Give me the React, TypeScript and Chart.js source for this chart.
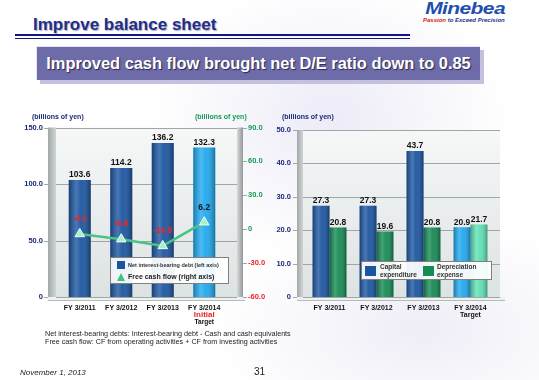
import React, { useEffect, useRef } from "react";
import { Chart, registerables } from "chart.js";

Chart.register(...registerables);

const FONT = "'Liberation Sans', Arial, Helvetica, sans-serif";

// ---- Left chart data ----
const debtCategories = ["FY 3/2011", "FY 3/2012", "FY 3/2013", "FY 3/2014"];
const netInterestBearingDebt = [103.6, 114.2, 136.2, 132.3];
const freeCashFlow = [-4.2, -8.8, -14.8, 6.2];
const debtAxisTicks = [0, 50, 100, 150];
const cashFlowAxisTicks = [-60, -30, 0, 30, 60, 90];
const targetNotesLeft = ["Initial", "Target"];

// ---- Right chart data ----
const capexCategories: (string | string[])[] = ["FY 3/2011", "FY 3/2012", "FY 3/2013", ["FY 3/2014", "Target"]];
const capitalExpenditure = [27.3, 27.3, 43.7, 20.9];
const depreciationExpense = [20.8, 19.6, 20.8, 21.7];
const capexAxisTicks = [0, 10, 20, 30, 40, 50];

const DARK_BLUE = "#1b55a0";
const LIGHT_BLUE = "#1fa8ee";
const DARK_GREEN = "#168a54";
const LIGHT_GREEN = "#5fe0b4";
const NAVY = "#1b2a78";
const AXIS_GREEN = "#179a52";
const AXIS_RED = "#ee2424";

const fmt = (v: number) => (v === 0 ? "0" : Number(v).toFixed(1));

const wallPlugin = {
  id: "wall3d",
  beforeDraw(chart: any, _args: any, o: any) {
    const { ctx, chartArea: a } = chart;
    const L = a.left - o.extL;
    const S = L + o.side;
    const R = a.right + o.extR;
    const P = o.pillar || 0;
    const T = a.top;
    const B = a.bottom;
    ctx.save();
    let g = ctx.createLinearGradient(0, T, 0, B);
    g.addColorStop(0, "#f6f8f8");
    g.addColorStop(1, "#dde2e2");
    ctx.fillStyle = g;
    ctx.fillRect(S, T, R - S, B - T);
    g = ctx.createLinearGradient(L, 0, S, 0);
    g.addColorStop(0, "#a2a8a8");
    g.addColorStop(1, "#d0d4d4");
    ctx.fillStyle = g;
    ctx.fillRect(L, T, S - L, B - T + 2);
    if (P) {
      g = ctx.createLinearGradient(R, 0, R + P, 0);
      g.addColorStop(0, "#d6dada");
      g.addColorStop(1, "#929898");
      ctx.fillStyle = g;
      ctx.fillRect(R, T, P, B - T + 2);
    }
    ctx.fillStyle = "#eef1f1";
    ctx.fillRect(L, B, R + P + o.floorExt - L, 3);
    ctx.strokeStyle = "#b5baba";
    ctx.lineWidth = 1;
    ctx.beginPath();
    ctx.moveTo(L, B + 3.5);
    ctx.lineTo(R + P + o.floorExt, B + 3.5);
    ctx.stroke();

    const ys = chart.scales[o.yId];
    ctx.strokeStyle = "#a0a6a6";
    ys.ticks.forEach((t: any) => {
      const y = Math.round(ys.getPixelForValue(t.value)) + 0.5;
      ctx.beginPath();
      ctx.moveTo(S, y);
      ctx.lineTo(R, y);
      ctx.stroke();
      ctx.beginPath();
      ctx.moveTo(L - 4, y);
      ctx.lineTo(L, y);
      ctx.stroke();
    });
    if (o.y2Id) {
      const y2 = chart.scales[o.y2Id];
      y2.ticks.forEach((t: any) => {
        const y = Math.round(y2.getPixelForValue(t.value)) + 0.5;
        ctx.beginPath();
        ctx.moveTo(R + P, y);
        ctx.lineTo(R + P + 4, y);
        ctx.stroke();
      });
    }
    ctx.restore();
  },
};

const cylinderPlugin = {
  id: "cylinder",
  afterDatasetDraw(chart: any, args: any) {
    const meta = args.meta;
    if (meta.type !== "bar") return;
    const ctx = chart.ctx;
    ctx.save();
    meta.data.forEach((el: any) => {
      const p = el.getProps(["x", "y", "base", "width"], true);
      const l = p.x - p.width / 2;
      const g = ctx.createLinearGradient(l, 0, l + p.width, 0);
      g.addColorStop(0, "rgba(0,0,0,0.28)");
      g.addColorStop(0.35, "rgba(255,255,255,0.2)");
      g.addColorStop(0.55, "rgba(255,255,255,0.05)");
      g.addColorStop(1, "rgba(0,0,0,0.32)");
      ctx.fillStyle = g;
      ctx.fillRect(l, p.y, p.width, p.base - p.y);
    });
    ctx.restore();
  },
};

const valueLabelPlugin = {
  id: "valueLabels",
  afterDatasetsDraw(chart: any, _a: any, o: any) {
    const ctx = chart.ctx;
    ctx.save();
    ctx.font = `bold ${o.size}px ${FONT}`;
    ctx.textAlign = "center";
    ctx.textBaseline = "middle";
    chart.data.datasets.forEach((ds: any, i: number) => {
      const meta = chart.getDatasetMeta(i);
      meta.data.forEach((el: any, j: number) => {
        const v = ds.data[j];
        const p = el.getProps(["x", "y"], true);
        if (meta.type === "bar") {
          ctx.fillStyle = "#111";
          ctx.fillText(v.toFixed(1), p.x, p.y - o.barGap);
        } else {
          ctx.fillStyle = v < 0 ? AXIS_RED : "#111";
          ctx.fillText(v.toFixed(1), p.x, p.y - o.lineGap);
        }
      });
    });
    ctx.restore();
  },
};

const targetNotePlugin = {
  id: "targetNote",
  afterDraw(chart: any, _a: any, o: any) {
    if (!o || !o.lines) return;
    const xs = chart.scales.x;
    const x = xs.getPixelForValue(chart.data.labels.length - 1);
    const ctx = chart.ctx;
    ctx.save();
    ctx.textAlign = "center";
    ctx.textBaseline = "middle";
    o.lines.forEach((txt: string, k: number) => {
      ctx.font = `bold ${o.sizes[k]}px ${FONT}`;
      ctx.fillStyle = o.colors[k];
      ctx.fillText(txt, x, chart.chartArea.bottom + o.offsets[k]);
    });
    ctx.restore();
  },
};

const xAxis = (extra: any = {}) => ({
  grid: { display: false, drawTicks: false },
  border: { display: false },
  ticks: {
    font: { family: FONT, size: 7, weight: "bold", lineHeight: 1.1 },
    color: "#111",
    padding: 7,
    maxRotation: 0,
    autoSkip: false,
  },
  afterFit: (s: any) => {
    s.height = 33;
  },
  ...extra,
});

function LeftChart() {
  const ref = useRef<HTMLCanvasElement | null>(null);
  useEffect(() => {
    if (!ref.current) return;
    const chart = new Chart(ref.current, {
      type: "bar",
      data: {
        labels: debtCategories,
        datasets: [
          {
            type: "line",
            label: "Free cash flow (right axis)",
            data: freeCashFlow,
            yAxisID: "y2",
            borderColor: "#49c488",
            borderWidth: 2.5,
            pointStyle: "triangle",
            pointRadius: 5.5,
            pointBackgroundColor: "#a8f0c8",
            pointBorderColor: "#f0fff6",
            pointBorderWidth: 1,
            order: 0,
          } as any,
          {
            type: "bar",
            label: "Net interest-bearing debt (left axis)",
            data: netInterestBearingDebt,
            yAxisID: "y",
            backgroundColor: [DARK_BLUE, DARK_BLUE, DARK_BLUE, LIGHT_BLUE],
            barPercentage: 0.53,
            categoryPercentage: 1,
            order: 1,
          },
        ],
      },
      options: {
        responsive: false,
        animation: false,
        events: [],
        layout: { padding: { top: 27, right: 0, left: 0, bottom: 0 } },
        plugins: {
          legend: { display: false },
          tooltip: { enabled: false },
          wall3d: { extL: 11, side: 8, extR: 12, pillar: 6, floorExt: 2, yId: "y", y2Id: "y2" },
          valueLabels: { size: 8.5, barGap: 5, lineGap: 15 },
          targetNote: {
            lines: targetNotesLeft,
            sizes: [8, 6.5],
            colors: [AXIS_RED, "#111"],
            offsets: [17.5, 25.5],
          },
        } as any,
        scales: {
          x: xAxis(),
          y: {
            position: "left",
            min: debtAxisTicks[0],
            max: debtAxisTicks[debtAxisTicks.length - 1],
            grid: { display: false, drawTicks: false },
            border: { display: false },
            ticks: {
              font: { family: FONT, size: 7.5, weight: "bold" },
              color: NAVY,
              padding: 16,
              callback: (v: any) => fmt(v),
            },
            afterBuildTicks: (s: any) => {
              s.ticks = debtAxisTicks.map((v) => ({ value: v }));
            },
            afterFit: (s: any) => {
              s.width = 59;
            },
          },
          y2: {
            position: "right",
            min: cashFlowAxisTicks[0],
            max: cashFlowAxisTicks[cashFlowAxisTicks.length - 1],
            grid: { display: false, drawTicks: false },
            border: { display: false },
            ticks: {
              font: { family: FONT, size: 7.5, weight: "bold" },
              color: (c: any) => (c.tick && c.tick.value < 0 ? AXIS_RED : AXIS_GREEN),
              padding: 23,
              callback: (v: any) => fmt(v),
            },
            afterBuildTicks: (s: any) => {
              s.ticks = cashFlowAxisTicks.map((v) => ({ value: v }));
            },
            afterFit: (s: any) => {
              s.width = 55;
            },
          },
        } as any,
      },
      plugins: [wallPlugin, cylinderPlugin, valueLabelPlugin, targetNotePlugin],
    });
    return () => chart.destroy();
  }, []);
  return <canvas ref={ref} width={280} height={230} style={{ display: "block" }} />;
}

function RightChart() {
  const ref = useRef<HTMLCanvasElement | null>(null);
  useEffect(() => {
    if (!ref.current) return;
    const chart = new Chart(ref.current, {
      type: "bar",
      data: {
        labels: capexCategories as any,
        datasets: [
          {
            label: "Capital expenditure",
            data: capitalExpenditure,
            backgroundColor: [DARK_BLUE, DARK_BLUE, DARK_BLUE, LIGHT_BLUE],
            barPercentage: 1,
            categoryPercentage: 0.72,
          },
          {
            label: "Depreciation expense",
            data: depreciationExpense,
            backgroundColor: [DARK_GREEN, DARK_GREEN, DARK_GREEN, LIGHT_GREEN],
            barPercentage: 1,
            categoryPercentage: 0.72,
          },
        ],
      },
      options: {
        responsive: false,
        animation: false,
        events: [],
        layout: { padding: { top: 30, right: 45, left: 0, bottom: 0 } },
        plugins: {
          legend: { display: false },
          tooltip: { enabled: false },
          wall3d: { extL: 9, side: 6, extR: 6, pillar: 0, floorExt: 5, yId: "y" },
          valueLabels: { size: 8.5, barGap: 5, lineGap: 15 },
        } as any,
        scales: {
          x: xAxis(),
          y: {
            position: "left",
            min: capexAxisTicks[0],
            max: capexAxisTicks[capexAxisTicks.length - 1],
            grid: { display: false, drawTicks: false },
            border: { display: false },
            ticks: {
              font: { family: FONT, size: 7.5, weight: "bold" },
              color: NAVY,
              padding: 15,
              callback: (v: any) => fmt(v),
            },
            afterBuildTicks: (s: any) => {
              s.ticks = capexAxisTicks.map((v) => ({ value: v }));
            },
            afterFit: (s: any) => {
              s.width = 36;
            },
          },
        } as any,
      },
      plugins: [wallPlugin, cylinderPlugin, valueLabelPlugin],
    });
    return () => chart.destroy();
  }, []);
  return <canvas ref={ref} width={269} height={230} style={{ display: "block" }} />;
}

const abs = (s: React.CSSProperties): React.CSSProperties => ({ position: "absolute", whiteSpace: "nowrap", ...s });

export default function App() {
  return (
    <div
      style={{
        position: "fixed",
        left: 0,
        top: 0,
        width: 539,
        height: 380,
        overflow: "hidden",
        fontFamily: FONT,
        background:
          "radial-gradient(ellipse 260px 200px at 330px 120px, rgba(214,212,238,0.45), rgba(255,255,255,0) 70%), radial-gradient(ellipse 300px 160px at 420px 330px, rgba(222,220,240,0.5), rgba(255,255,255,0) 70%), #ffffff",
      }}
    >
      {/* Title */}
      <div
        style={abs({
          left: 33,
          top: 15,
          fontSize: 17,
          fontWeight: "bold",
          color: "#1f2e86",
          lineHeight: "20px",
          textShadow: "1px 1px 1px rgba(70,70,130,0.45)",
        })}
      >
        Improve balance sheet
      </div>
      <div style={abs({ left: 15, top: 34, width: 395, height: 2, background: "#14148a" })} />
      <div style={abs({ left: 15, top: 38, width: 395, height: 1, background: "#14148a" })} />

      {/* Logo */}
      <div
        style={abs({
          right: 34,
          top: 0,
          fontSize: 21,
          fontWeight: "bold",
          fontStyle: "italic",
          color: "#1f4fae",
          lineHeight: "20px",
          letterSpacing: -0.6,
          transform: "scaleY(0.82)",
          transformOrigin: "top",
        })}
      >
        Minebea
      </div>
      <div
        style={abs({
          left: 423,
          top: 16.5,
          fontSize: 6,
          fontWeight: "bold",
          fontStyle: "italic",
          color: "#1c3488",
          lineHeight: "7px",
        })}
      >
        <span style={{ color: "#d42020" }}>Passion</span> to Exceed Precision
      </div>

      {/* Banner */}
      <div style={abs({ left: 40, top: 50, width: 444, height: 34, background: "#c3c2de" })} />
      <div
        style={abs({
          left: 36,
          top: 46,
          width: 444,
          height: 34,
          boxSizing: "border-box",
          background: "#6d6ba8",
          borderTop: "1px solid #e4e4f2",
          borderLeft: "1px solid #e4e4f2",
          color: "#ffffff",
          fontSize: 16.4,
          fontWeight: "bold",
          lineHeight: "32px",
          textAlign: "center",
          textShadow: "1px 1px 1px #2a2850",
        })}
      >
        Improved cash flow brought net D/E ratio down to 0.85
      </div>

      {/* Charts */}
      <div style={abs({ left: 0, top: 100, width: 280, height: 230 })}>
        <LeftChart />
      </div>
      <div style={abs({ left: 270, top: 100, width: 269, height: 230 })}>
        <RightChart />
      </div>

      {/* Axis unit labels */}
      <div style={abs({ left: 32, top: 112, fontSize: 7, fontWeight: "bold", color: NAVY, lineHeight: "9px" })}>
        (billions of yen)
      </div>
      <div style={abs({ left: 195, top: 112, fontSize: 7, fontWeight: "bold", color: AXIS_GREEN, lineHeight: "9px" })}>
        (billions of yen)
      </div>
      <div style={abs({ left: 282, top: 112, fontSize: 7, fontWeight: "bold", color: NAVY, lineHeight: "9px" })}>
        (billions of yen)
      </div>

      {/* Left legend */}
      <div
        style={abs({
          left: 110,
          top: 257,
          width: 119,
          height: 27,
          boxSizing: "border-box",
          background: "rgba(255,255,255,0.93)",
          border: "1px solid #808080",
        })}
      >
        <div style={abs({ left: 6, top: 3, width: 8, height: 8, background: DARK_BLUE })} />
        <div style={abs({ left: 17, top: 3, fontSize: 5.5, fontWeight: "bold", color: "#333", lineHeight: "8px" })}>
          Net interest-bearing debt (left axis)
        </div>
        <div
          style={abs({
            left: 6,
            top: 15,
            width: 0,
            height: 0,
            borderLeft: "4.5px solid transparent",
            borderRight: "4.5px solid transparent",
            borderBottom: "8px solid #3cc47f",
          })}
        />
        <div style={abs({ left: 17, top: 14, fontSize: 7, fontWeight: "bold", color: "#222", lineHeight: "10px" })}>
          Free cash flow (right axis)
        </div>
      </div>

      {/* Right legend */}
      <div
        style={abs({
          left: 361,
          top: 261,
          width: 131,
          height: 19,
          boxSizing: "border-box",
          background: "rgba(255,255,255,0.93)",
          border: "1px solid #808080",
        })}
      >
        <div style={abs({ left: 3, top: 4, width: 11, height: 10, background: DARK_BLUE })} />
        <div style={abs({ left: 18, top: 1, fontSize: 6.5, fontWeight: "bold", color: "#333", lineHeight: "8px" })}>
          Capital
          <br />
          expenditure
        </div>
        <div style={abs({ left: 61, top: 4, width: 11, height: 10, background: DARK_GREEN })} />
        <div style={abs({ left: 75, top: 1, fontSize: 6.5, fontWeight: "bold", color: "#333", lineHeight: "8px" })}>
          Depreciation
          <br />
          expense
        </div>
      </div>

      {/* Footnotes */}
      <div style={abs({ left: 45, top: 330, fontSize: 7.2, color: "#222", lineHeight: "8px" })}>
        Net interest-bearing debts: Interest-bearing debt - Cash and cash equivalents
        <br />
        Free cash flow: CF from operating activities + CF from investing activities
      </div>
      <div style={abs({ left: 20, top: 368, fontSize: 8, fontStyle: "italic", color: "#222", lineHeight: "10px" })}>
        November 1, 2013
      </div>
      <div style={abs({ left: 254, top: 366, fontSize: 10, color: "#222", lineHeight: "12px" })}>31</div>
    </div>
  );
}
